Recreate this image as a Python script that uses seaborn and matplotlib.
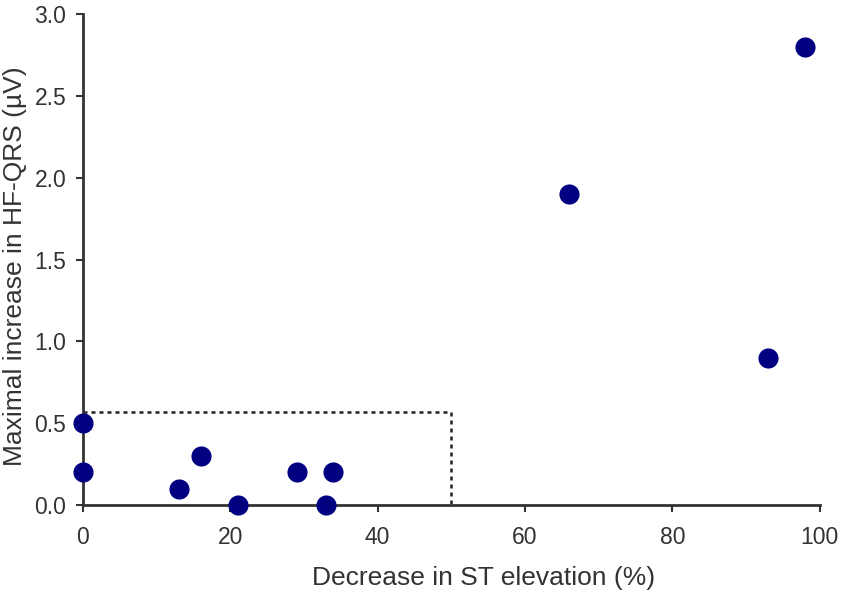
import matplotlib
matplotlib.use("Agg")
import matplotlib.pyplot as plt
import seaborn as sns
import pandas as pd

st_decrease = [0, 0, 13, 16, 21, 29, 33, 34, 66, 93, 98]
hf_qrs_increase = [0.5, 0.2, 0.1, 0.3, 0.0, 0.2, 0.0, 0.2, 1.9, 0.9, 2.8]
box_x = [0, 50, 50]
box_y = [0.57, 0.57, 0.0]
x_ticks = [0, 20, 40, 60, 80, 100]
y_ticks = [0.0, 0.5, 1.0, 1.5, 2.0, 2.5, 3.0]

sns.set_theme(style="white")
plt.rcParams['font.family'] = ['Liberation Sans', 'DejaVu Sans']

df = pd.DataFrame({"x": st_decrease, "y": hf_qrs_increase})

fig = plt.figure(figsize=(8.46, 5.98), dpi=100)
ax = fig.add_axes([0.098, 0.1555, 0.871, 0.821])

ax.plot(box_x, box_y, linestyle=(0, (1.6, 1.6)), color="#222222", linewidth=1.8, zorder=1)

sns.scatterplot(data=df, x="x", y="y", ax=ax, s=210, color="#000080",
                edgecolor="#000080", linewidth=0, zorder=3, clip_on=False)

ax.set_xlim(0, 100)
ax.set_ylim(0, 3.0)
ax.set_xticks(x_ticks)
ax.set_yticks(y_ticks)
ax.set_yticklabels([f"{v:.1f}" for v in y_ticks])
ax.tick_params(axis="both", which="major", bottom=True, left=True, direction="out",
               length=5, width=1.5, color="#333333",
               labelsize=16.5, labelcolor="#333333")
ax.tick_params(axis="x", pad=10)
ax.tick_params(axis="y", pad=7)

for side in ["top", "right"]:
    ax.spines[side].set_visible(False)
for side in ["left", "bottom"]:
    ax.spines[side].set_color("#333333")
    ax.spines[side].set_linewidth(2)

ax.set_xlabel("Decrease in ST elevation (%)", fontsize=19, color="#333333", va="center")
ax.set_ylabel("Maximal increase in HF-QRS (\u00b5V)", fontsize=19, color="#333333", va="center")
ax.xaxis.set_label_coords(0.544, -0.149)
ax.yaxis.set_label_coords(-0.0923, 0.486)

fig.savefig("out.png", dpi=100)
